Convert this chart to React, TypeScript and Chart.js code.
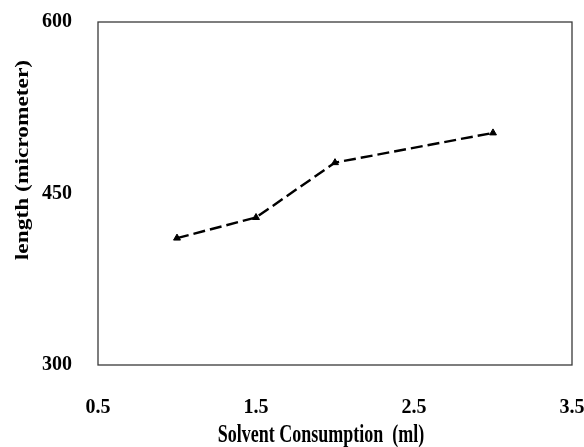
import React, { useEffect, useRef } from "react";
import { Chart, registerables } from "chart.js";

Chart.register(...registerables);

const solventMl = [1.0, 1.5, 2.0, 3.0];
const lengthUm = [411, 429, 477, 503];
const xTickValues = [0.5, 1.5, 2.5, 3.5];
const yTickValues = [300, 450, 600];
const xTitle = "Solvent Consumption  (ml)";
const yTitle = "length (micrometer)";

const FONT = "'Liberation Serif', 'Times New Roman', serif";

const framePlugin = {
  id: "frameAndTitles",
  afterDraw(chart: any) {
    const { ctx } = chart;
    const xs = chart.scales.x;
    const ys = chart.scales.y;
    const left = xs.getPixelForValue(xTickValues[0]);
    const right = xs.getPixelForValue(xTickValues[xTickValues.length - 1]);
    const top = ys.getPixelForValue(yTickValues[yTickValues.length - 1]);
    const bottom = ys.getPixelForValue(yTickValues[0]);
    ctx.save();
    ctx.strokeStyle = "#3a3a3a";
    ctx.lineWidth = 1.3;
    ctx.strokeRect(left, top, right - left, bottom - top);

    ctx.fillStyle = "#000";
    ctx.font = `bold 18px ${FONT}`;
    ctx.textAlign = "center";
    ctx.textBaseline = "middle";
    ctx.save();
    ctx.translate(321, 436);
    ctx.scale(1, 1.35);
    ctx.fillText(xTitle, 0, 0);
    ctx.restore();
    ctx.save();
    ctx.translate(23, 160);
    ctx.rotate(-Math.PI / 2);
    ctx.scale(1.3, 1.05);
    ctx.fillText(yTitle, 0, 0);
    ctx.restore();
    ctx.restore();
  },
};

export default function App() {
  const ref = useRef<HTMLCanvasElement>(null);
  useEffect(() => {
    if (!ref.current) return;
    const chart = new Chart(ref.current, {
      type: "scatter",
      data: {
        datasets: [
          {
            data: solventMl.map((x, i) => ({ x, y: lengthUm[i] })),
            showLine: true,
            borderColor: "#000",
            backgroundColor: "#000",
            borderWidth: 2.4,
            borderDash: [12, 5],
            pointStyle: "triangle",
            pointRadius: 4,
            pointBorderWidth: 1,
            pointBorderColor: "#000",
            pointBackgroundColor: "#000",
          },
        ],
      },
      options: {
        responsive: false,
        animation: false,
        layout: { padding: { top: 22, right: 12, left: 0, bottom: 0 } },
        plugins: { legend: { display: false }, tooltip: { enabled: false } },
        scales: {
          x: {
            type: "linear",
            min: 0.5,
            max: 3.5,
            grid: { display: false },
            border: { display: false },
            afterBuildTicks: (s: any) => {
              s.ticks = xTickValues.map((v) => ({ value: v }));
            },
            afterFit: (s: any) => {
              s.height = 82;
              s.paddingLeft = 0;
              s.paddingRight = 0;
            },
            ticks: {
              padding: 23,
              color: "#000",
              maxRotation: 0,
              font: { family: FONT, size: 20, weight: "bold" },
              callback: (v: any) => String(v),
            },
          },
          y: {
            type: "linear",
            min: 300,
            max: 600,
            grid: { display: false },
            border: { display: false },
            afterBuildTicks: (s: any) => {
              s.ticks = yTickValues.map((v) => ({ value: v }));
            },
            afterFit: (s: any) => {
              s.width = 98;
              s.paddingTop = 0;
              s.paddingBottom = 0;
            },
            ticks: {
              padding: 18,
              color: "#000",
              font: { family: FONT, size: 20, weight: "bold" },
              callback: (v: any) => String(v),
            },
          },
        },
      },
      plugins: [framePlugin],
    } as any);
    return () => chart.destroy();
  }, []);
  return (
    <div style={{ position: "fixed", left: 0, top: 0, width: 584, height: 447, background: "#fff" }}>
      <canvas ref={ref} width={584} height={447} style={{ display: "block" }} />
    </div>
  );
}
